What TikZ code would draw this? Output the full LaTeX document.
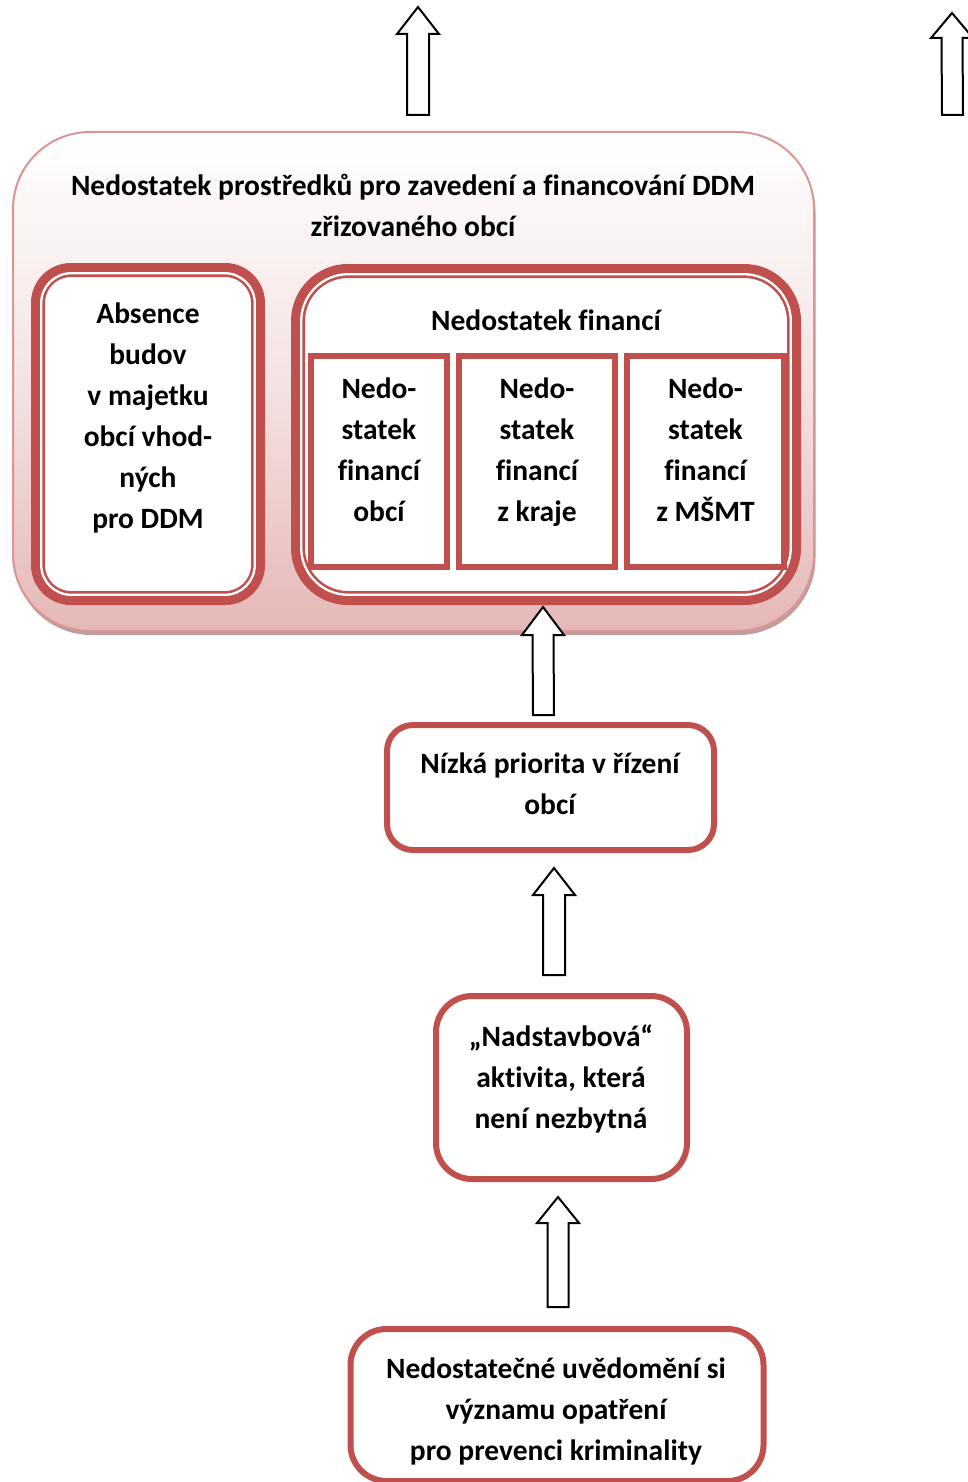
\documentclass[tikz,border=0pt]{standalone}
\usepackage{fontspec}
\setmainfont{Carlito}[Ligatures=CommonOff]
\usetikzlibrary{calc}
\definecolor{boxred}{HTML}{C0504D}
\definecolor{outline}{HTML}{D99694}
\definecolor{pinkbot}{HTML}{E5B8B7}
\definecolor{shadowc}{HTML}{BE9D9D}
\newcommand{\barrow}[5]{%
  \draw[blockarr] ($(#1)+(-#4,0)$) -- ($(#2)+(-#4,-#3)$) -- ($(#2)+(-#5,-#3)$) -- (#2)
    -- ($(#2)+(#5,-#3)$) -- ($(#2)+(#4,-#3)$) -- ($(#1)+(#4,0)$) -- cycle;}
\begin{document}
\begin{tikzpicture}[x=1pt,y=1pt,
  txt/.style={font=\bfseries\fontsize{29.5}{41}\selectfont, align=center, inner sep=0pt},
  dblbox/.style={draw=boxred, line width=14pt, fill=white, outer sep=0pt, inner sep=0pt},
  subbox/.style={draw=boxred, line width=6pt, fill=white, outer sep=0pt, inner sep=0pt},
  plainbox/.style={draw=boxred, line width=6pt, fill=white, outer sep=0pt, inner sep=0pt},
  blockarr/.style={draw=black, line width=2pt, fill=white, line join=miter},
  innerwhite/.style={draw=white, line width=2.3pt}]
\useasboundingbox (0,0) rectangle (968,-1482);
\clip (0,0) rectangle (968,-1482);

% top arrows
\coordinate (t1) at (418,-7);  \coordinate (b1) at (418,-115);
\coordinate (t2) at (952,-13); \coordinate (b2) at (952.5,-115);
\barrow{b1}{t1}{27}{11}{21}
\barrow{b2}{t2}{25}{10.5}{21}

% outer big box with shadow
\node[rectangle, rounded corners=77pt, minimum width=801pt, minimum height=499pt, fill=shadowc, inner sep=0pt, outer sep=0pt] (shadow) at (415,-385.5) {};
\node[rectangle, rounded corners=77pt, minimum width=801pt, minimum height=499pt, draw=outline, line width=2pt, top color=white, bottom color=pinkbot, middle color=white!60!pinkbot, inner sep=0pt, outer sep=0pt] (outer) at (413.5,-381.5) {};
\node[txt] (title) at (413,-205) {Nedostatek prostředků pro zavedení a financování DDM\\zřizovaného obcí};

% left double box
\node[dblbox, rounded corners=33pt, minimum width=220pt, minimum height=328pt] (abs) at (148,-434) {};
\draw[innerwhite, rounded corners=30pt] ($(abs.north west)+(3.2,-3.2)$) rectangle ($(abs.south east)+(-3.2,3.2)$);
\node[txt] (absT) at (148,-418) {Absence\\budov\\v majetku\\obcí vhod-\\ných\\pro DDM};

% right double box
\node[dblbox, rounded corners=50pt, minimum width=496pt, minimum height=327pt] (fin) at (546,-434.5) {};
\draw[innerwhite, rounded corners=47pt] ($(fin.north west)+(3.2,-3.2)$) rectangle ($(fin.south east)+(-3.2,3.2)$);
\node[txt] (finT) at (546,-320) {Nedostatek financí};

% sub boxes
\node[subbox, minimum width=136pt, minimum height=211pt] (s1) at (379,-461.5) {};
\node[subbox, minimum width=156pt, minimum height=211pt] (s2) at (537,-461.5) {};
\node[subbox, minimum width=157pt, minimum height=211pt] (s3) at (705.5,-461.5) {};
\node[txt] (s1T) at (379,-450) {Nedo-\\statek\\financí\\obcí};
\node[txt] (s2T) at (537,-452) {Nedo-\\statek\\financí\\z kraje};
\node[txt] (s3T) at (705.5,-450) {Nedo-\\statek\\financí\\z MŠMT};

% lower chain
\node[plainbox, rounded corners=26pt, minimum width=327pt, minimum height=125pt] (nizka) at (550.5,-787.5) {};
\node[txt] (nizkaT) at (550,-783.5) {Nízká priorita v řízení\\obcí};
\node[plainbox, rounded corners=36pt, minimum width=251pt, minimum height=183pt] (nad) at (561.5,-1087.5) {};
\node[txt] (nadT) at (561,-1078.5) {„Nadstavbová“\\aktivita, která\\není nezbytná};
\node[plainbox, rounded corners=36pt, minimum width=413pt, minimum height=152pt] (ned) at (557,-1405) {};
\node[txt] (nedT) at (556,-1411) {Nedostatečné uvědomění si\\významu opatření\\pro prevenci kriminality};

% block arrows between boxes
\coordinate (t3) at (543,-607);  \coordinate (b3) at (543.5,-715);
\coordinate (t4) at (554,-868);  \coordinate (b4) at (554,-975);
\coordinate (t5) at (558,-1197); \coordinate (b5) at (558,-1307);
\barrow{b3}{t3}{28}{10.5}{21}
\barrow{b4}{t4}{27}{11}{21}
\barrow{b5}{t5}{26}{10.5}{21}
\end{tikzpicture}
\end{document}
